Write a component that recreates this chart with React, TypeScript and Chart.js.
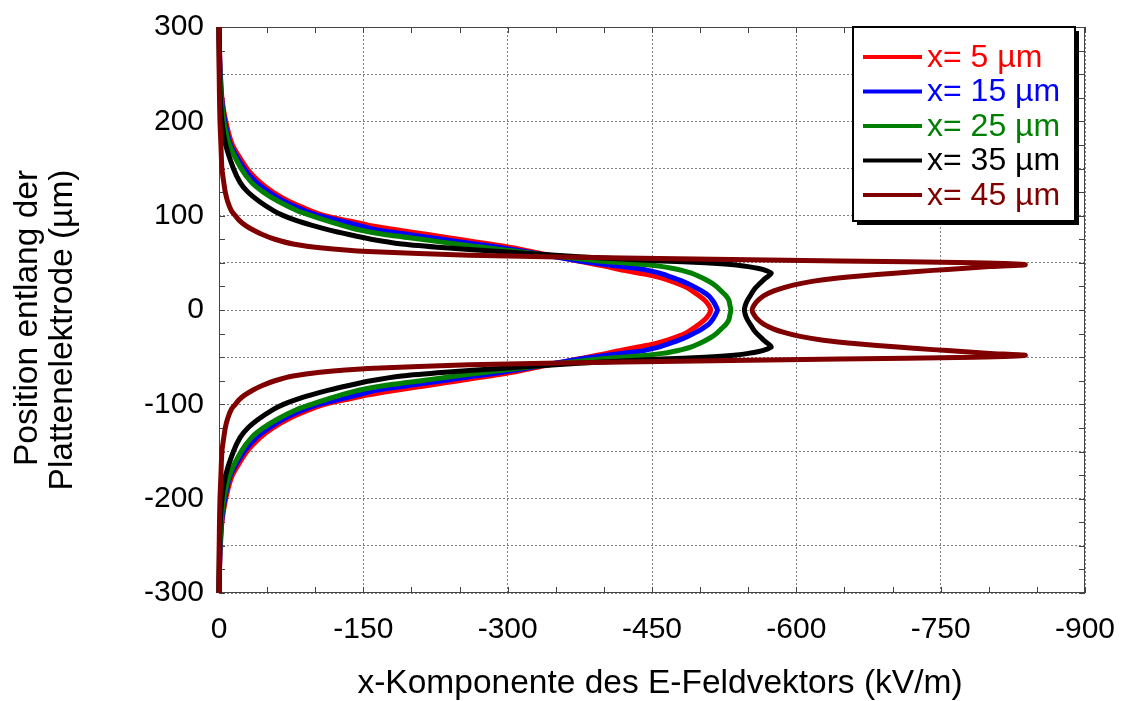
import { useEffect, useRef } from 'react';
import { Chart, registerables } from 'chart.js';

Chart.register(...registerables);

const FONT = '"Liberation Sans", Arial, sans-serif';

// Position along the plate electrode (µm)
const positions = [
  300, 275, 250, 225, 200, 175, 150, 135, 125, 115, 105, 100, 95, 90, 85, 80, 75, 70, 66, 62,
  58, 55, 52, 50, 48, 46, 44, 42, 39, 36, 32, 28, 24, 20, 15, 10, 5, 0,
  -5, -10, -15, -20, -24, -28, -32, -36, -39, -42, -44, -46, -48, -50, -52, -55, -58, -62,
  -66, -70, -75, -80, -85, -90, -95, -100, -105, -115, -125, -135, -150, -175, -200, -225,
  -250, -275, -300,
];

// x-component of the E-field (kV/m) for each series
const field5 = [
  0, -0.5, -1.5, -3, -7, -14, -29, -43, -56, -73, -96, -110, -132, -155, -184, -217, -249, -281, -305, -324,
  -344, -358, -373, -383, -393, -403, -412, -421, -437, -452, -466, -477, -486, -492, -499, -505, -509, -511,
  -509, -505, -499, -492, -486, -477, -466, -452, -437, -421, -412, -403, -393, -383, -373, -358, -344, -324,
  -305, -281, -249, -217, -184, -155, -132, -110, -96, -73, -56, -43, -29, -14, -7, -3, -1.5, -0.5, 0,
];
const field15 = [
  0, -0.5, -1.3, -2.7, -6, -12, -26, -39, -52, -68, -90, -104, -124, -144, -163, -197, -232, -266, -294, -318,
  -340, -357, -375, -388, -403, -419, -436, -446, -458, -467, -478, -487, -495, -502, -509, -513, -516, -518,
  -516, -513, -509, -502, -495, -487, -478, -467, -458, -446, -436, -419, -403, -388, -375, -357, -340, -318,
  -294, -266, -232, -197, -163, -144, -124, -104, -90, -68, -52, -39, -26, -12, -6, -2.7, -1.3, -0.5, 0,
];
const field25 = [
  0, -0.3, -1, -2.3, -5, -11, -23, -34, -46, -62, -82, -96, -111, -127, -145, -172, -210, -246, -278, -310,
  -342, -367, -395, -420, -445, -461, -472, -481, -491, -498, -506, -513, -518, -522, -527, -530, -531, -532,
  -531, -530, -527, -522, -518, -513, -506, -498, -491, -481, -472, -461, -445, -420, -395, -367, -342, -310,
  -278, -246, -210, -172, -145, -127, -111, -96, -82, -62, -46, -34, -23, -11, -5, -2.3, -1, -0.3, 0,
];
const field35 = [
  0, -0.2, -0.5, -1.3, -3, -7, -15, -22, -30, -42, -57, -67, -80, -96, -114, -135, -158, -190, -235, -292,
  -350, -398, -460, -505, -535, -550, -561, -568, -574, -571, -566, -562, -558, -555, -552, -549, -547, -546,
  -547, -549, -552, -555, -558, -562, -566, -571, -574, -568, -561, -550, -535, -505, -460, -398, -350, -292,
  -235, -190, -158, -135, -114, -96, -80, -67, -57, -42, -30, -22, -15, -7, -3, -1.3, -0.5, -0.2, 0,
];
const field45 = [
  0, 0, -0.2, -0.5, -1, -2, -3, -5, -6.5, -9, -13, -17, -21, -27, -35, -45, -58, -77, -105, -155,
  -260, -420, -645, -785, -838, -801, -772, -742, -702, -666, -628, -604, -588, -576, -566, -560, -556, -554,
  -556, -560, -566, -576, -588, -604, -628, -666, -702, -742, -772, -801, -838, -785, -645, -420, -260, -155,
  -105, -77, -58, -45, -35, -27, -21, -17, -13, -9, -6.5, -5, -3, -2, -1, -0.5, -0.2, 0, 0,
];

const seriesLabels = ['x= 5 µm', 'x= 15 µm', 'x= 25 µm', 'x= 35 µm', 'x= 45 µm'];
const seriesColors = ['#ff0000', '#0000ff', '#008000', '#000000', '#800000'];
const seriesValues = [field5, field15, field25, field35, field45];

const xTitle = 'x-Komponente des E-Feldvektors (kV/m)';
const yTitle = ['Position entlang der', 'Plattenelektrode (µm)'];

const xMinorTicks = [0, -50, -100, -150, -200, -250, -300, -350, -400, -450, -500, -550, -600, -650, -700, -750, -800, -850, -900];
const yMinorTicks = [300, 275, 250, 225, 200, 175, 150, 125, 100, 75, 50, 25, 0, -25, -50, -75, -100, -125, -150, -175, -200, -225, -250, -275, -300];

const framePlugin = {
  id: 'frameTicks',
  beforeDatasetsDraw(chart: any) {
    const { ctx, chartArea, scales } = chart;
    const { left, right, top, bottom } = chartArea;
    ctx.save();
    ctx.strokeStyle = '#444';
    ctx.lineWidth = 1;
    ctx.strokeRect(left + 0.5, top + 0.5, right - left - 1, bottom - top - 1);
    ctx.beginPath();
    for (const v of xMinorTicks) {
      const px = Math.round(scales.x.getPixelForValue(v)) + 0.5;
      ctx.moveTo(px, bottom);
      ctx.lineTo(px, bottom - 6);
      ctx.moveTo(px, top);
      ctx.lineTo(px, top + 6);
    }
    for (const v of yMinorTicks) {
      const py = Math.round(scales.y.getPixelForValue(v)) + 0.5;
      ctx.moveTo(left, py);
      ctx.lineTo(left + 6, py);
      ctx.moveTo(right, py);
      ctx.lineTo(right - 6, py);
    }
    ctx.stroke();
    ctx.restore();
  },
};

const titlesPlugin = {
  id: 'axisTitles',
  afterDraw(chart: any) {
    const { ctx, chartArea } = chart;
    ctx.save();
    ctx.font = `33.5px ${FONT}`;
    ctx.fillStyle = '#000';
    ctx.textAlign = 'center';
    ctx.textBaseline = 'middle';
    ctx.fillText(xTitle, (chartArea.left + chartArea.right) / 2 + 8, chart.height - 17);
    const midY = (chartArea.top + chartArea.bottom) / 2;
    const lineX = [28, 63];
    const lineShift = [8, 20];
    yTitle.forEach((line, i) => {
      ctx.save();
      ctx.translate(lineX[i], midY + lineShift[i]);
      ctx.rotate(-Math.PI / 2);
      ctx.fillText(line, 0, 0);
      ctx.restore();
    });
    ctx.restore();
  },
};

const legendPlugin = {
  id: 'boxLegend',
  afterDraw(chart: any) {
    const { ctx, chartArea } = chart;
    const bx = chartArea.right - 232;
    const by = chartArea.top;
    const bw = 222;
    const bh = 194;
    ctx.save();
    ctx.fillStyle = '#000';
    ctx.fillRect(bx + 4, by + 4, bw, bh);
    ctx.fillStyle = '#fff';
    ctx.fillRect(bx, by, bw, bh);
    ctx.strokeStyle = '#000';
    ctx.lineWidth = 2;
    ctx.strokeRect(bx, by, bw, bh);
    ctx.font = `32px ${FONT}`;
    ctx.textBaseline = 'middle';
    ctx.textAlign = 'left';
    chart.data.datasets.forEach((ds: any, i: number) => {
      const cy = by + 30 + i * 34.5;
      ctx.strokeStyle = ds.borderColor;
      ctx.lineWidth = 4;
      ctx.beginPath();
      ctx.moveTo(bx + 10, cy);
      ctx.lineTo(bx + 69, cy);
      ctx.stroke();
      ctx.fillStyle = ds.borderColor;
      ctx.fillText(ds.label, bx + 74, cy + 1);
    });
    ctx.restore();
  },
};

export default function App() {
  const canvasRef = useRef<HTMLCanvasElement | null>(null);

  useEffect(() => {
    const canvas = canvasRef.current;
    if (!canvas) return;
    const datasets = seriesLabels.map((label, i) => ({
      label,
      data: positions.map((p, j) => ({ x: seriesValues[i][j], y: p })),
      borderColor: seriesColors[i],
      backgroundColor: seriesColors[i],
      borderWidth: 5,
      pointRadius: 0,
      tension: 0.2,
      fill: false,
      clip: 4,
      order: seriesLabels.length - i,
    }));
    const chart = new Chart(canvas, {
      type: 'line',
      data: { datasets },
      options: {
        responsive: false,
        animation: false,
        devicePixelRatio: 1,
        layout: { padding: { left: 0, top: 27, right: 37, bottom: 0 } },
        plugins: { legend: { display: false }, tooltip: { enabled: false } },
        scales: {
          x: {
            type: 'linear',
            min: -900,
            max: 0,
            reverse: true,
            ticks: {
              stepSize: 150,
              autoSkip: false,
              maxRotation: 0,
              padding: 19,
              color: '#000',
              font: { family: FONT, size: 30 },
              callback: (v: any) => String(v),
            },
            grid: { color: '#808080', lineWidth: 1, drawTicks: false },
            border: { display: false, dash: [2, 2] },
            title: { display: false, text: xTitle },
            afterFit: (s: any) => {
              s.height = 108;
              s.paddingLeft = 0;
              s.paddingRight = 0;
            },
          },
          y: {
            type: 'linear',
            min: -300,
            max: 300,
            ticks: {
              stepSize: 50,
              autoSkip: false,
              padding: 15,
              color: '#000',
              font: { family: FONT, size: 30 },
              callback: (v: any) => (Number(v) % 100 === 0 ? String(v) : ''),
            },
            grid: { color: '#808080', lineWidth: 1, drawTicks: false },
            border: { display: false, dash: [2, 2] },
            title: { display: false, text: yTitle },
            afterFit: (s: any) => {
              s.width = 219;
              s.paddingTop = 0;
              s.paddingBottom = 0;
            },
          },
        },
      },
      plugins: [framePlugin, legendPlugin, titlesPlugin],
    } as any);
    return () => chart.destroy();
  }, []);

  return (
    <div style={{ position: 'fixed', left: 0, top: 0, width: 1122, height: 701, background: '#fff' }}>
      <canvas ref={canvasRef} width={1122} height={701} />
    </div>
  );
}
